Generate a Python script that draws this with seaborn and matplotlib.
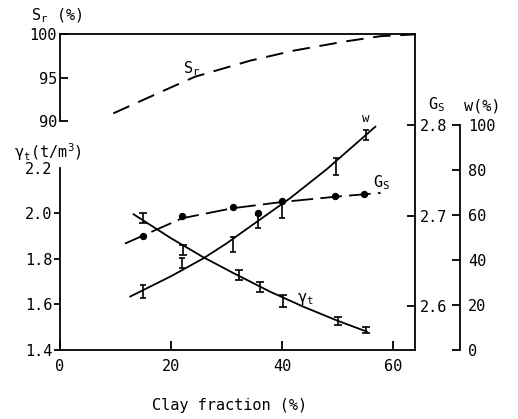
import matplotlib
matplotlib.use("Agg")
import matplotlib.pyplot as plt
import seaborn as sns

# Measured values against clay fraction (%)
gamma_clay = [15.0, 22.1, 32.3, 36.0, 40.2, 50.0, 55.0]
gamma_t = [1.979, 1.839, 1.727, 1.678, 1.615, 1.527, 1.488]
gamma_err = [0.022, 0.022, 0.022, 0.022, 0.026, 0.018, 0.013]

w_clay = [15.0, 22.0, 31.2, 35.7, 39.9, 49.7, 55.0]
w_pct = [26.0, 38.7, 46.9, 57.1, 62.0, 81.6, 95.6]
w_err = [2.9, 2.2, 3.3, 2.9, 3.3, 3.8, 2.2]

gs_clay = [15.0, 21.9, 31.1, 35.7, 39.9, 49.5, 54.8]
gs_vals = [2.677, 2.699, 2.709, 2.703, 2.716, 2.722, 2.724]

# Trend curves
sr_fit_clay = [9.6, 19.2, 24.3, 34.2, 42.0, 51.0, 57.7, 63.7]
sr_fit = [90.88, 93.64, 95.09, 96.93, 98.08, 99.11, 99.75, 99.95]
gamma_fit_clay = [13.2, 20.0, 25.8, 31.0, 37.8, 43.8, 50.0, 55.3]
gamma_fit = [1.996, 1.89, 1.807, 1.74, 1.656, 1.59, 1.528, 1.48]
w_fit_clay = [12.6, 20.0, 25.8, 30.0, 34.2, 41.4, 48.0, 56.8]
w_fit = [23.7, 32.8, 40.7, 47.4, 54.8, 67.4, 80.3, 99.3]
gs_fit_clay = [11.7, 15.0, 22.0, 31.0, 40.0, 50.0, 57.7]
gs_fit = [2.669, 2.678, 2.697, 2.708, 2.715, 2.721, 2.725]

# Tick labels
x_ticks = [0, 20, 40, 60]
gamma_ticks = [1.4, 1.6, 1.8, 2.0, 2.2]
sr_ticks = [90, 95, 100]
gs_ticks = [2.6, 2.7, 2.8]
w_ticks = [0, 20, 40, 60, 80, 100]

sns.set_style("ticks")
plt.rcParams.update({
    "font.family": ["DejaVu Sans Mono", "DejaVu Sans"],
    "font.size": 11,
    "mathtext.fontset": "custom",
    "mathtext.rm": "DejaVu Sans Mono",
    "mathtext.it": "DejaVu Sans Mono",
    "mathtext.bf": "DejaVu Sans Mono:bold",
    "axes.linewidth": 1.3,
    "axes.edgecolor": "black",
    "xtick.color": "black",
    "ytick.color": "black",
    "text.color": "black",
})

W, H = 518, 419
fig = plt.figure(figsize=(W / 100, H / 100), dpi=100)


def pt(p):
    """pixels -> points at 100 dpi"""
    return p * 72 / 100


L, R, T, B = 60, 415, 34, 350
rect = [L / W, 1 - B / H, (R - L) / W, (B - T) / H]
XMAX = 63.9

ax_g = fig.add_axes(rect)
ax_s = fig.add_axes(rect)
ax_gs = fig.add_axes(rect)
ax_w = fig.add_axes(rect)
for a in (ax_g, ax_s, ax_gs, ax_w):
    a.set_xlim(0, XMAX)
    for sp in a.spines.values():
        sp.set_visible(False)
for a in (ax_s, ax_gs, ax_w):
    a.patch.set_visible(False)
    a.tick_params(axis="x", bottom=False, labelbottom=False)

# unit weight axis (left, lower)
ax_g.set_ylim(1.4, 2.786)
ax_g.spines["left"].set_visible(True)
ax_g.spines["left"].set_bounds(1.4, 2.2)
ax_g.spines["bottom"].set_visible(True)
ax_g.set_xticks(x_ticks)
ax_g.set_xticklabels([str(v) for v in x_ticks])
ax_g.set_yticks(gamma_ticks)
ax_g.set_yticklabels([f"{v:.1f}" for v in gamma_ticks])
ax_g.tick_params(axis="x", direction="in", length=pt(9), width=1.3, pad=pt(9))
ax_g.tick_params(axis="y", direction="out", length=pt(6), width=1.3, pad=1)
# the top end of the scale carries a short inward stub instead
ax_g.set_yticks([gamma_ticks[-1]], minor=True)
ax_g.tick_params(axis="y", which="minor", direction="in", length=pt(8), width=1.3)
ax_g.yaxis.get_major_ticks()[-1].tick1line.set_visible(False)

# degree of saturation axis (left, upper)
ax_s.set_ylim(63.68, 100.0)
ax_s.spines["left"].set_visible(True)
ax_s.spines["left"].set_bounds(90, 100)
ax_s.spines["top"].set_visible(True)
ax_s.set_yticks(sr_ticks)
ax_s.set_yticklabels([str(v) for v in sr_ticks])
ax_s.tick_params(axis="y", direction="in", length=pt(8), width=1.3, pad=pt(3))

# specific gravity axis (right spine)
ax_gs.set_ylim(2.5514, 2.9006)
ax_gs.spines["right"].set_visible(True)
ax_gs.yaxis.tick_right()
ax_gs.set_yticks(gs_ticks)
ax_gs.set_yticklabels([f"{v:.1f}" for v in gs_ticks])
ax_gs.tick_params(axis="y", direction="in", length=pt(8), width=1.3, pad=pt(5))

# water content axis (offset right spine)
ax_w.set_ylim(0, 140.4)
ax_w.spines["right"].set_visible(True)
ax_w.spines["right"].set_position(("outward", pt(45)))
ax_w.spines["right"].set_bounds(0, 100)
ax_w.yaxis.tick_right()
ax_w.set_yticks(w_ticks)
ax_w.set_yticklabels([str(v) for v in w_ticks])
ax_w.tick_params(axis="y", direction="in", length=pt(8), width=1.3, pad=pt(8))

# curves
sns.lineplot(x=sr_fit_clay, y=sr_fit, ax=ax_s, color="black", lw=1.4,
             linestyle=(0, (9, 5)), sort=False)
sns.lineplot(x=gamma_fit_clay, y=gamma_fit, ax=ax_g, color="black", lw=1.3, sort=False)
sns.lineplot(x=w_fit_clay, y=w_fit, ax=ax_w, color="black", lw=1.3, sort=False)
sns.lineplot(x=gs_fit_clay, y=gs_fit, ax=ax_gs, color="black", lw=1.3,
             linestyle=(0, (12, 4)), sort=False)

# measured points
ax_g.errorbar(gamma_clay, gamma_t, yerr=gamma_err, fmt="none", ecolor="black",
              elinewidth=1.2, capsize=3, capthick=1.2)
ax_w.errorbar(w_clay, w_pct, yerr=w_err, fmt="none", ecolor="black",
              elinewidth=1.2, capsize=2, capthick=1.2)
sns.scatterplot(x=gs_clay, y=gs_vals, ax=ax_gs, color="black", s=28,
                edgecolor="black", linewidth=0, zorder=5)
for a in (ax_g, ax_s, ax_gs, ax_w):
    a.set_xlabel("")
    a.set_ylabel("")
    a.set_xlim(0, XMAX)


def ftext(x, y, s, **kw):
    fig.text(x / W, 1 - y / H, s, ha="center", va="center", **kw)


ftext(57, 16, r"$\mathrm{S_r}$ (%)")
ftext(48, 152, r"$\mathrm{\gamma_t}$(t/m$^{\mathrm{3}}$)")
ftext(437, 105, r"$\mathrm{G_S}$")
ftext(482, 106, "w(%)")
ftext(230, 405, "Clay fraction (%)")
ftext(192, 69, r"$\mathrm{S_r}$")
ftext(366, 119, "w", fontsize=9)
ftext(382, 183, r"$\mathrm{G_S}$")
ftext(305, 299, r"$\mathrm{\gamma_t}$")

fig.savefig("out.png", dpi=100)
